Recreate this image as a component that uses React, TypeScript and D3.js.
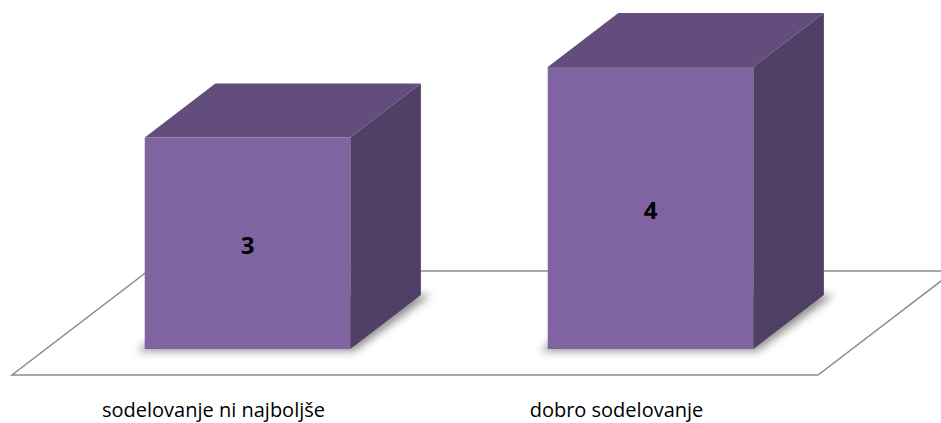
import React from 'react';
import * as d3 from 'd3';

// chart data
const categories = ['sodelovanje ni najboljše', 'dobro sodelovanje'];
const values = [3, 4];
const valueDomain = [0, 4];

const W = 941;
const H = 423;

// floor geometry (front edge + depth)
const floorLeft = 12;
const floorWidth = 806;
const floorFrontY = 375;
const floorDepth = 104;
const kx = 136 / 104; // horizontal shift per pixel of depth
const barFront = 26;
const barBack = 80;

const colors = {
  front: '#8064A2',
  top: '#634D7C',
  side: '#514066',
  floor: '#8C8C8C',
};

const App = () => {
  const x = d3
    .scaleBand<string>()
    .domain(categories)
    .range([0, floorWidth])
    .paddingInner(0.49)
    .paddingOuter(0.245);

  const h = d3.scaleLinear().domain(valueDomain).range([0, 282]);

  // project floor coords (u along the front edge, d into the depth) onto the screen
  const px = (u: number, d: number) => floorLeft + u + d * kx;
  const py = (d: number) => floorFrontY - d;

  const floorPts = [
    [px(0, 0), py(0)],
    [px(floorWidth, 0), py(0)],
    [px(floorWidth, floorDepth), py(floorDepth)],
    [px(0, floorDepth), py(floorDepth)],
  ];

  const pts = (arr: number[][]) => arr.map((p) => p.join(',')).join(' ');

  return (
    <svg
      width={W}
      height={H}
      style={{ position: 'absolute', left: 0, top: 0, background: '#fff' }}
      fontFamily="'Open Sans', sans-serif"
    >
      <defs>
        <filter id="shadow" x="-20%" y="-50%" width="140%" height="200%">
          <feGaussianBlur stdDeviation="4" />
        </filter>
      </defs>

      <polygon points={pts(floorPts)} fill="#fff" stroke={colors.floor} strokeWidth={1.5} />

      {categories.map((c, i) => {
        const u0 = x(c)!;
        const u1 = u0 + x.bandwidth();
        const hh = h(values[i]);
        const fl = px(u0, barFront);
        const fr = px(u1, barFront);
        const bl = px(u0, barBack);
        const br = px(u1, barBack);
        const yfb = py(barFront);
        const ybb = py(barBack);
        const yft = yfb - hh;
        const ybt = ybb - hh;
        return (
          <g key={c}>
            <polygon
              points={pts([
                [fl - 8, yfb + 2],
                [fr + 4, yfb + 2],
                [br + 10, ybb],
                [bl, ybb],
              ])}
              fill="#333"
              opacity={0.55}
              filter="url(#shadow)"
            />
            <polygon
              points={pts([
                [fl, yft],
                [bl, ybt],
                [br, ybt],
                [fr, yft],
              ])}
              fill={colors.top}
            />
            <polygon
              points={pts([
                [fr, yft],
                [br, ybt],
                [br, ybb],
                [fr, yfb],
              ])}
              fill={colors.side}
            />
            <rect x={fl} y={yft} width={fr - fl} height={hh} fill={colors.front} />
            <text
              x={(fl + fr) / 2}
              y={(yft + yfb) / 2 + 1}
              textAnchor="middle"
              dominantBaseline="central"
              fontSize={24}
              fontWeight="bold"
              fill="#000"
            >
              {values[i]}
            </text>
            <text
              x={floorLeft + u0 + x.bandwidth() / 2}
              y={417}
              textAnchor="middle"
              fontSize={20}
              fill="#000"
            >
              {c}
            </text>
          </g>
        );
      })}
    </svg>
  );
};

export default App;
